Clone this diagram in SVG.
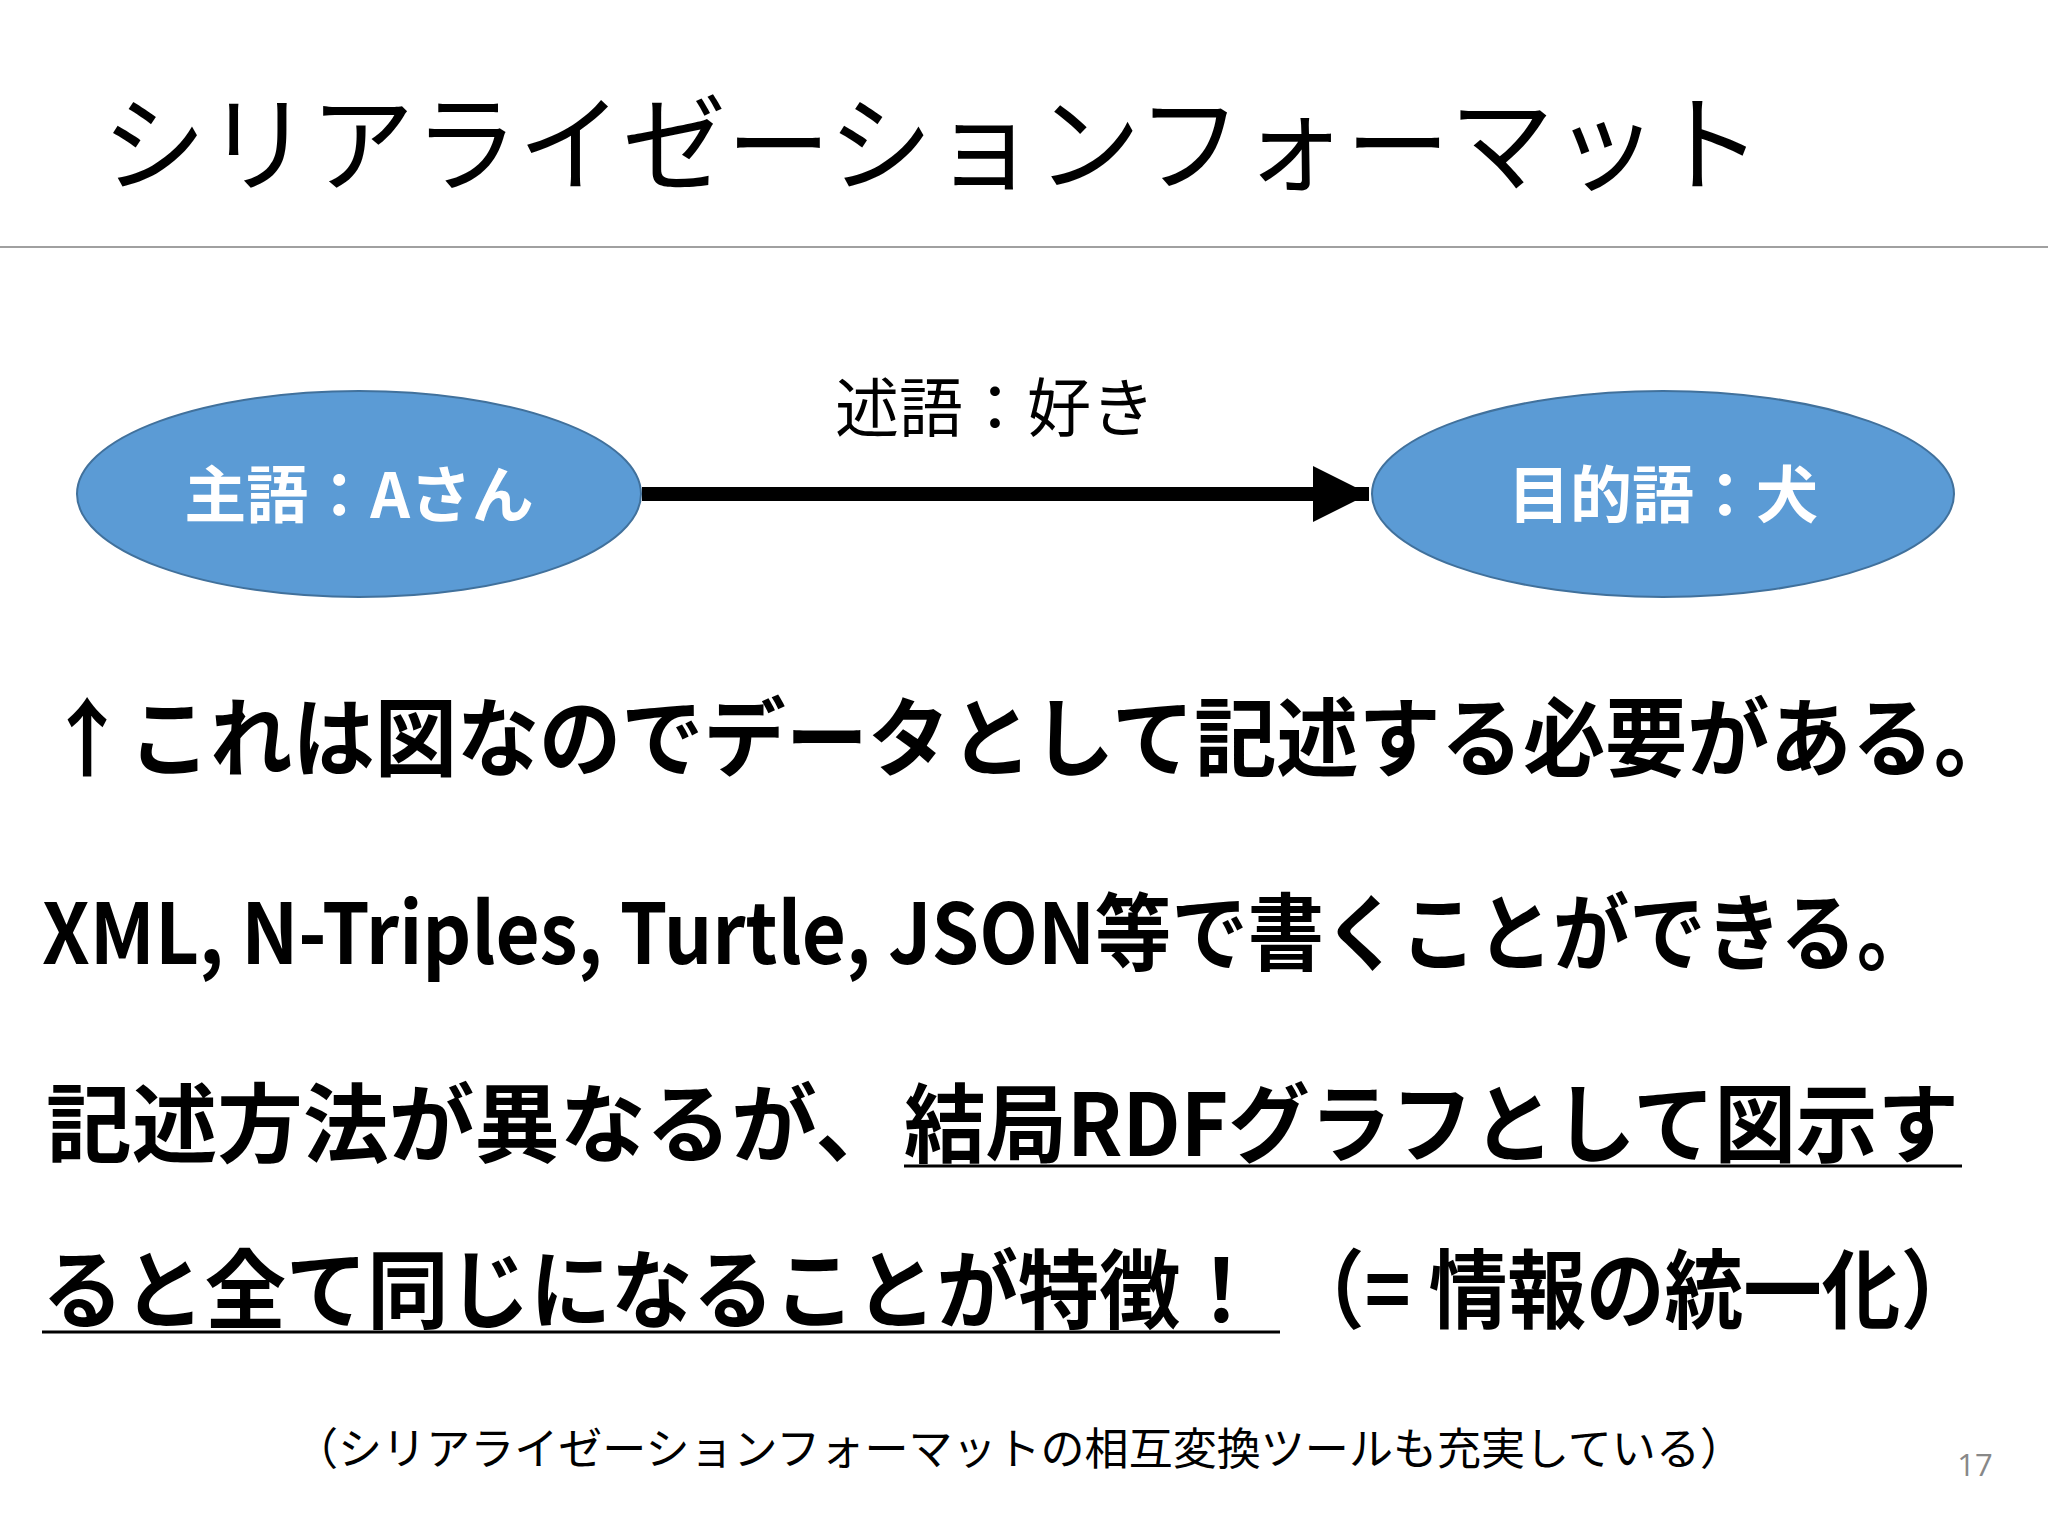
<svg xmlns="http://www.w3.org/2000/svg" width="2048" height="1536" viewBox="0 0 2048 1536">
<defs>
<style>
text{font-family:"Noto Sans CJK JP","Noto Sans",sans-serif;fill:#000}
.b{font-weight:bold}
.node{fill:#5B9BD5;stroke:#41719C;stroke-width:2}
.nl{fill:#fff;font-weight:bold;font-size:62px}
.ul{stroke:#000;stroke-width:3}
</style>
<marker id="ah" markerWidth="4" markerHeight="4" refX="4" refY="2" orient="auto" markerUnits="strokeWidth"><path d="M0,0 L4,2 L0,4 Z" fill="#000"/></marker>
</defs>
<rect width="2048" height="1536" fill="#fff"/>
<text x="102" y="183" font-size="106" textLength="1660" lengthAdjust="spacingAndGlyphs">シリアライゼーションフォーマット</text>
<line x1="0" y1="247" x2="2048" y2="247" stroke="#a0a0a0" stroke-width="2"/>
<g id="connectors">
<line x1="642" y1="494" x2="1369" y2="494" stroke="#000" stroke-width="14" marker-end="url(#ah)"/>
<text x="995" y="431" font-size="64" text-anchor="middle">述語：好き</text>
</g>
<g id="subject">
<ellipse class="node" cx="359" cy="494" rx="282" ry="103"/>
<text class="nl" x="359" y="518" text-anchor="middle">主語：Aさん</text>
</g>
<g id="object">
<ellipse class="node" cx="1663" cy="494" rx="291" ry="103"/>
<text class="nl" x="1663" y="518" text-anchor="middle">目的語：犬</text>
</g>
<text class="b" x="46" y="770" font-size="86" textLength="1970" lengthAdjust="spacingAndGlyphs">↑これは図なのでデータとして記述する必要がある。</text>
<text class="b" x="42" y="964" font-size="84" textLength="1891" lengthAdjust="spacingAndGlyphs">XML, N-Triples, Turtle, JSON等で書くことができる。</text>
<text class="b" x="46" y="1156" font-size="86" textLength="855" lengthAdjust="spacingAndGlyphs">記述方法が異なるが、</text>
<text class="b" x="904" y="1156" font-size="86" textLength="1055" lengthAdjust="spacingAndGlyphs">結局RDFグラフとして図示す</text>
<line class="ul" x1="904" y1="1166" x2="1962" y2="1166"/>
<text class="b" x="42" y="1322" font-size="86" textLength="1220" lengthAdjust="spacingAndGlyphs">ると全て同じになることが特徴！</text>
<line class="ul" x1="42" y1="1332" x2="1280" y2="1332"/>
<text class="b" x="1286" y="1322" font-size="86" textLength="693" lengthAdjust="spacingAndGlyphs">（= 情報の統一化）</text>
<text x="1019" y="1465" font-size="44" text-anchor="middle" textLength="1450" lengthAdjust="spacingAndGlyphs">（シリアライゼーションフォーマットの相互変換ツールも充実している）</text>
<text x="1975" y="1476" font-size="31" style="fill:#888;font-family:'Open Sans',sans-serif" text-anchor="middle">17</text>
</svg>
